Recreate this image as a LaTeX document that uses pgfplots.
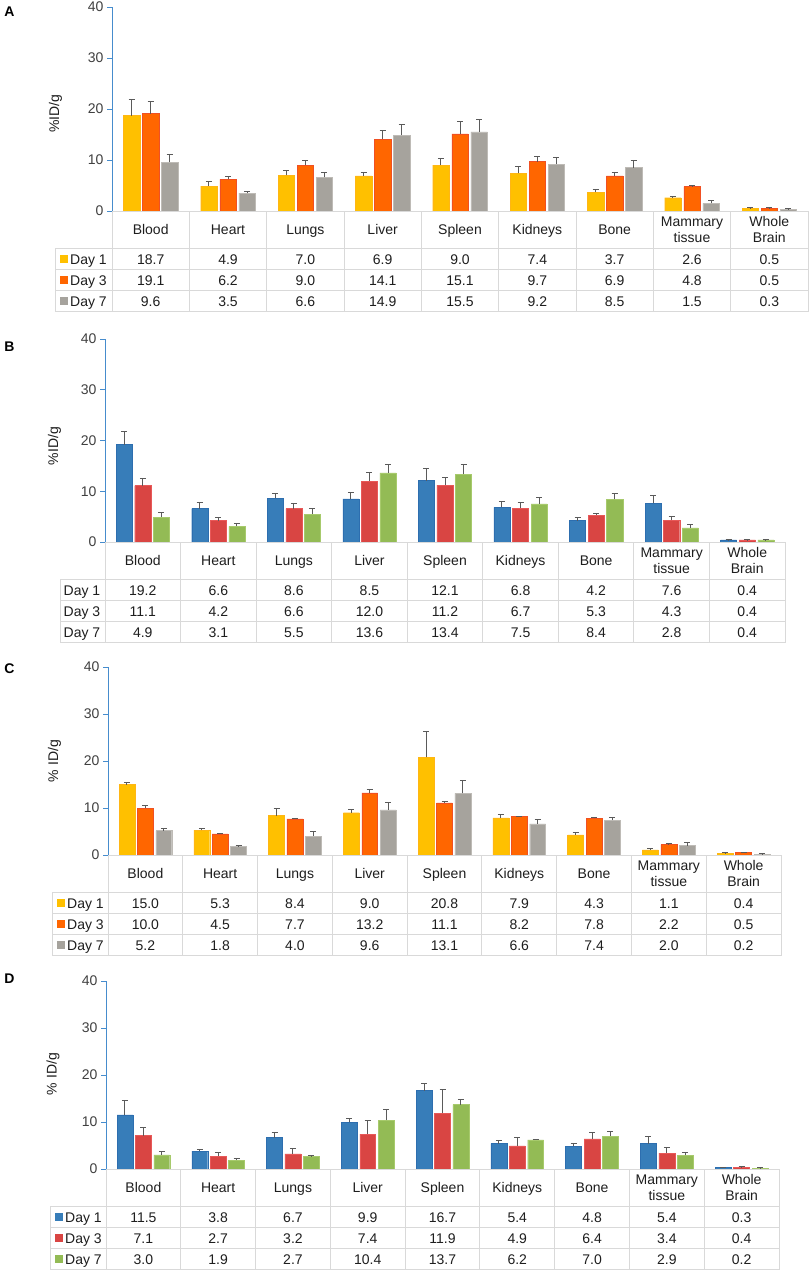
\documentclass[border=0pt]{standalone}
\usepackage{fontspec}
\setmainfont{Liberation Sans}
\usepackage{pgfplots}
\pgfplotsset{compat=1.18}
\usepackage{pgfplotstable}

\definecolor{axisblue}{RGB}{70,140,205}
\definecolor{gridc}{RGB}{217,217,217}
\definecolor{tickc}{RGB}{64,64,64}
\definecolor{txtc}{RGB}{30,30,30}
\definecolor{errc}{RGB}{90,90,90}
\definecolor{yel}{RGB}{255,192,0}
\definecolor{yele}{RGB}{255,182,20}
\definecolor{ora}{RGB}{255,102,0}
\definecolor{orae}{RGB}{240,80,35}
\definecolor{gry}{RGB}{166,163,157}
\definecolor{grye}{RGB}{190,187,182}
\definecolor{blu}{RGB}{55,125,185}
\definecolor{blue}{RGB}{45,110,175}
\definecolor{red1}{RGB}{217,69,67}
\definecolor{rede}{RGB}{232,88,88}
\definecolor{grn}{RGB}{147,187,85}
\definecolor{grne}{RGB}{167,202,108}

\newcommand{\tf}{\fontsize{14}{16}\selectfont}

\pgfplotsset{
  panel/.style={anchor=south west, scale only axis,
    xmin=-0.5, xmax=8.5, ymin=0, ymax=40, ytick={0,10,20,30,40},
    hide x axis, axis y line*=left,
    y axis line style={-, draw=axisblue, line width=1pt},
    ytick style={draw=axisblue, line width=1pt},
    tick align=outside, major tick length=5pt,
    yticklabel style={font=\tf, text=tickc},
    /pgf/number format/assume math mode=true,
    ybar, bar width=0.213, clip=false},
  eb/.style={error bars/.cd, y dir=plus, y explicit,
    error bar style={errc, line width=1pt},
    error mark options={errc, line width=1pt, rotate=90, mark size=3pt}}
}

% x d1 e1 d3 e3 d7 e7
\pgfplotstableread{
x d1 e1 d3 e3 d7 e7
0 18.7 3.15 19.1 2.3 9.6 1.5
1 4.9 0.8 6.2 0.6 3.5 0.3
2 7.0 1.0 9.0 0.85 6.6 0.9
3 6.9 0.67 14.1 1.6 14.9 2.1
4 9.0 1.2 15.1 2.4 15.5 2.4
5 7.4 1.3 9.7 0.9 9.2 1.2
6 3.7 0.5 6.9 0.7 8.5 1.35
7 2.6 0.2 4.8 0.2 1.5 0.6
8 0.5 0.15 0.5 0.1 0.3 0.1
}\dataA
\pgfplotstableread{
x d1 e1 d3 e3 d7 e7
0 19.2 2.6 11.1 1.5 4.9 0.95
1 6.6 1.2 4.2 0.7 3.1 0.45
2 8.6 1.05 6.6 0.9 5.5 1.2
3 8.5 1.2 12.0 1.7 13.6 1.7
4 12.1 2.3 11.2 1.6 13.4 1.8
5 6.8 1.1 6.7 1.0 7.5 1.2
6 4.2 0.7 5.3 0.35 8.4 1.2
7 7.6 1.5 4.3 0.7 2.8 0.7
8 0.4 0.05 0.4 0.05 0.4 0.05
}\dataB
\pgfplotstableread{
x d1 e1 d3 e3 d7 e7
0 15.0 0.4 10.0 0.5 5.2 0.45
1 5.3 0.3 4.5 0.17 1.8 0.2
2 8.4 1.4 7.7 0.1 4.0 0.96
3 9.0 0.7 13.2 0.75 9.6 1.5
4 20.8 5.4 11.1 0.3 13.1 2.8
5 7.9 0.8 8.2 0.1 6.6 1.05
6 4.3 0.5 7.8 0.27 7.4 0.5
7 1.1 0.3 2.2 0.2 2.0 0.7
8 0.4 0.05 0.5 0.05 0.2 0.05
}\dataC
\pgfplotstableread{
x d1 e1 d3 e3 d7 e7
0 11.5 3.0 7.1 1.7 3.0 0.67
1 3.8 0.44 2.7 0.9 1.9 0.43
2 6.7 1.14 3.2 1.2 2.7 0.13
3 9.9 0.9 7.4 2.85 10.4 2.2
4 16.7 1.6 11.9 5.1 13.7 1.1
5 5.4 0.6 4.9 1.8 6.2 0.1
6 4.8 0.64 6.4 1.3 7.0 0.9
7 5.4 1.5 3.4 1.1 2.9 0.56
8 0.3 0.05 0.4 0.05 0.2 0.05
}\dataD

% table grid: #1 AX, #2 RX, #3 Y0, #4 LX
\newcommand{\tgrid}[4]{%
  \pgfmathsetmacro{\cw}{(#2-#1)/9}%
  \def\AX{#1}\def\Yz{#3}\def\LX{#4}%
  \draw[gridc,line width=1pt] (#1pt,-#3pt) -- (#2pt,-#3pt);
  \foreach \k in {37.5,58.5,79.5,100.5}{\draw[gridc,line width=1pt] (#4pt,{-(#3+\k)*1pt}) -- (#2pt,{-(#3+\k)*1pt});}
  \foreach \i in {0,...,9}{\draw[gridc,line width=1pt] ({(#1+\i*\cw)*1pt},-#3pt) -- ({(#1+\i*\cw)*1pt},{-(#3+100.5)*1pt});}
  \draw[gridc,line width=1pt] (#4pt,{-(#3+37.5)*1pt}) -- (#4pt,{-(#3+100.5)*1pt});
  \foreach \n [count=\i from 0] in {Blood,Heart,Lungs,Liver,Spleen,Kidneys,Bone}{%
    \node[anchor=base,font=\tf,text=txtc,inner sep=0pt] at ({(#1+(\i+0.5)*\cw)*1pt},{-(#3+23.75)*1pt}) {\n};}
  \node[anchor=base,font=\tf,text=txtc,inner sep=0pt] at ({(#1+7.5*\cw)*1pt},{-(#3+15.75)*1pt}) {Mammary};
  \node[anchor=base,font=\tf,text=txtc,inner sep=0pt] at ({(#1+7.5*\cw)*1pt},{-(#3+31.75)*1pt}) {tissue};
  \node[anchor=base,font=\tf,text=txtc,inner sep=0pt] at ({(#1+8.5*\cw)*1pt},{-(#3+15.75)*1pt}) {Whole};
  \node[anchor=base,font=\tf,text=txtc,inner sep=0pt] at ({(#1+8.5*\cw)*1pt},{-(#3+31.75)*1pt}) {Brain};
}
% row values: #1 row index, #2 list
\newcommand{\trow}[2]{%
  \foreach \v [count=\i from 0] in {#2}{%
    \node[anchor=base,font=\tf,text=txtc,inner sep=0pt] at ({(\AX+(\i+0.5)*\cw)*1pt},{-(\Yz+53+#1*21)*1pt}) {\v};}}
% legend cell with key: #1 row, #2 colour, #3 label
\newcommand{\tkey}[3]{%
  \fill[#2] ({(\LX+4.5)*1pt},{-(\Yz+44+#1*21)*1pt}) rectangle ++(8pt,-8pt);
  \node[anchor=base west,font=\tf,text=txtc,inner sep=0pt] at ({(\LX+15)*1pt},{-(\Yz+53+#1*21)*1pt}) {#3};}
\newcommand{\tlab}[2]{%
  \node[anchor=base west,font=\tf,text=txtc,inner sep=0pt] at ({(\LX+3.5)*1pt},{-(\Yz+53+#1*21)*1pt}) {#2};}

\begin{document}
\begin{tikzpicture}
\useasboundingbox (0,0) rectangle (810pt,-1272pt);
\fill[white] (0,0) rectangle (810pt,-1272pt);

% ---------------- Panel A ----------------
\begin{axis}[panel, at={(112pt,-211pt)}, width=696pt, height=204pt]
\addplot[ybar, bar shift=-0.246, fill=yel, draw=yele, eb] table[x=x,y=d1,y error=e1] {\dataA};
\addplot[ybar, bar shift=0, fill=ora, draw=orae, eb] table[x=x,y=d3,y error=e3] {\dataA};
\addplot[ybar, bar shift=0.246, fill=gry, draw=grye, eb] table[x=x,y=d7,y error=e7] {\dataA};
\end{axis}
\node[font=\tf\bfseries] at (9.5pt,-12pt) {A};
\node[rotate=90,font=\tf,text=txtc] at (55.5pt,-113.5pt) {\%ID/g};
\tgrid{112}{808}{211}{55}
\tkey{0}{yel}{Day 1}\tkey{1}{ora}{Day 3}\tkey{2}{gry}{Day 7}
\trow{0}{18.7,4.9,7.0,6.9,9.0,7.4,3.7,2.6,0.5}
\trow{1}{19.1,6.2,9.0,14.1,15.1,9.7,6.9,4.8,0.5}
\trow{2}{9.6,3.5,6.6,14.9,15.5,9.2,8.5,1.5,0.3}

% ---------------- Panel B ----------------
\begin{axis}[panel, at={(105pt,-542pt)}, width=680pt, height=203pt]
\addplot[ybar, bar shift=-0.246, fill=blu, draw=blue, eb] table[x=x,y=d1,y error=e1] {\dataB};
\addplot[ybar, bar shift=0, fill=red1, draw=rede, eb] table[x=x,y=d3,y error=e3] {\dataB};
\addplot[ybar, bar shift=0.246, fill=grn, draw=grne, eb] table[x=x,y=d7,y error=e7] {\dataB};
\end{axis}
\node[font=\tf\bfseries] at (9.5pt,-346.5pt) {B};
\node[rotate=90,font=\tf,text=txtc] at (54.5pt,-446pt) {\%ID/g};
\tgrid{105}{785}{542}{60}
\tlab{0}{Day 1}\tlab{1}{Day 3}\tlab{2}{Day 7}
\trow{0}{19.2,6.6,8.6,8.5,12.1,6.8,4.2,7.6,0.4}
\trow{1}{11.1,4.2,6.6,12.0,11.2,6.7,5.3,4.3,0.4}
\trow{2}{4.9,3.1,5.5,13.6,13.4,7.5,8.4,2.8,0.4}

% ---------------- Panel C ----------------
\begin{axis}[panel, at={(108pt,-855pt)}, width=673pt, height=188pt]
\addplot[ybar, bar shift=-0.246, fill=yel, draw=yele, eb] table[x=x,y=d1,y error=e1] {\dataC};
\addplot[ybar, bar shift=0, fill=ora, draw=orae, eb] table[x=x,y=d3,y error=e3] {\dataC};
\addplot[ybar, bar shift=0.246, fill=gry, draw=grye, eb] table[x=x,y=d7,y error=e7] {\dataC};
\end{axis}
\node[font=\tf\bfseries] at (9.5pt,-669pt) {C};
\node[rotate=90,font=\tf,text=txtc] at (54.5pt,-761pt) {\% ID/g};
\tgrid{108}{781}{855}{52}
\tkey{0}{yel}{Day 1}\tkey{1}{ora}{Day 3}\tkey{2}{gry}{Day 7}
\trow{0}{15.0,5.3,8.4,9.0,20.8,7.9,4.3,1.1,0.4}
\trow{1}{10.0,4.5,7.7,13.2,11.1,8.2,7.8,2.2,0.5}
\trow{2}{5.2,1.8,4.0,9.6,13.1,6.6,7.4,2.0,0.2}

% ---------------- Panel D ----------------
\begin{axis}[panel, at={(106pt,-1169pt)}, width=673pt, height=188pt]
\addplot[ybar, bar shift=-0.246, fill=blu, draw=blue, eb] table[x=x,y=d1,y error=e1] {\dataD};
\addplot[ybar, bar shift=0, fill=red1, draw=rede, eb] table[x=x,y=d3,y error=e3] {\dataD};
\addplot[ybar, bar shift=0.246, fill=grn, draw=grne, eb] table[x=x,y=d7,y error=e7] {\dataD};
\end{axis}
\node[font=\tf\bfseries] at (9.5pt,-979pt) {D};
\node[rotate=90,font=\tf,text=txtc] at (53pt,-1074pt) {\% ID/g};
\tgrid{106}{779}{1169}{50}
\tkey{0}{blu}{Day 1}\tkey{1}{red1}{Day 3}\tkey{2}{grn}{Day 7}
\trow{0}{11.5,3.8,6.7,9.9,16.7,5.4,4.8,5.4,0.3}
\trow{1}{7.1,2.7,3.2,7.4,11.9,4.9,6.4,3.4,0.4}
\trow{2}{3.0,1.9,2.7,10.4,13.7,6.2,7.0,2.9,0.2}
\end{tikzpicture}
\end{document}
